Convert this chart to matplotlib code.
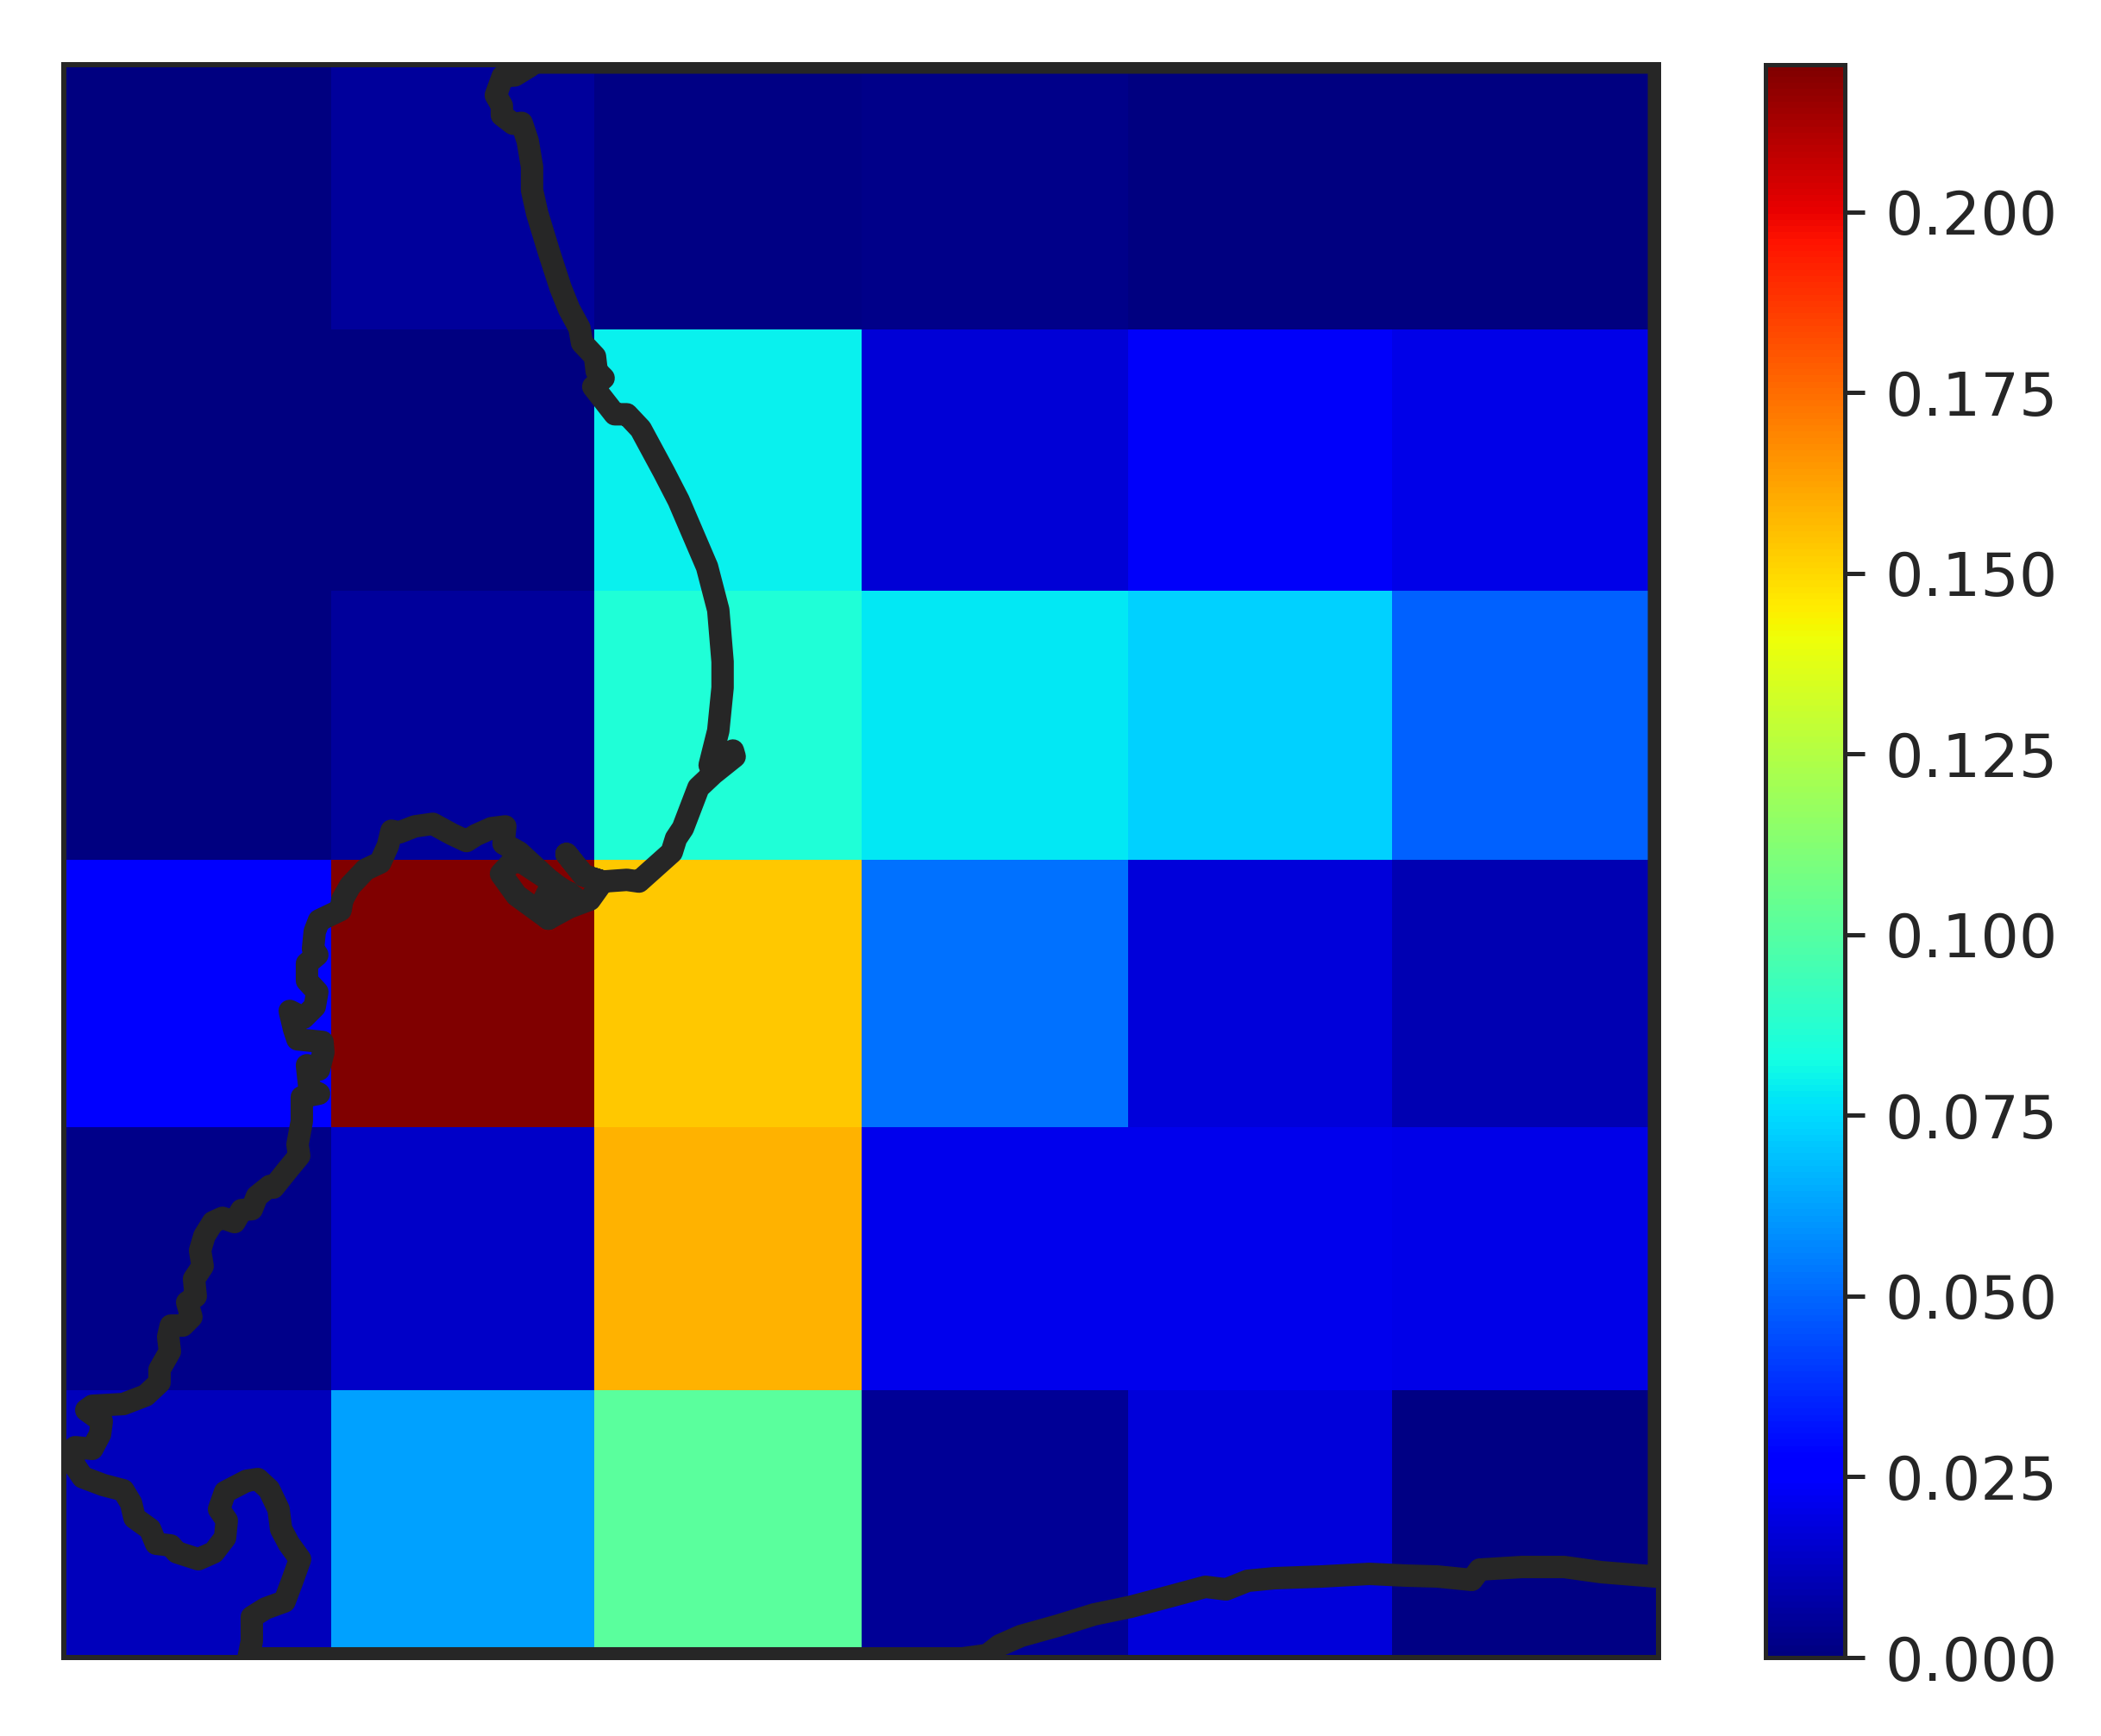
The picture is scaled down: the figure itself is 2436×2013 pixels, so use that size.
import matplotlib
matplotlib.use("Agg")
import matplotlib.pyplot as plt
import numpy as np

W, H, DPI = 2436, 2013, 200
INK = "#262626"

# grid edges and cell values (map units)
x_edges = [74, 384, 689, 999, 1308, 1614, 1923]
y_edges = [74, 382, 685, 997, 1307, 1612, 1922]
row_0 = [0.0005, 0.0058, 0.0012, 0.0025, 0.0005, 0.0008]
row_1 = [0.0000, 0.0000, 0.0793, 0.0170, 0.0240, 0.0200]
row_2 = [0.0003, 0.0060, 0.0860, 0.0776, 0.0726, 0.0490]
row_3 = [0.0260, 0.2204, 0.1540, 0.0517, 0.0175, 0.0099]
row_4 = [0.0020, 0.0145, 0.1587, 0.0213, 0.0210, 0.0206]
row_5 = [0.0120, 0.0621, 0.1008, 0.0045, 0.0175, 0.0010]
vmax = 0.2204
cbar_ticks = [0.0, 0.025, 0.05, 0.075, 0.1, 0.125, 0.15, 0.175, 0.2]

# coastline outline (map units), as (x, y) runs
north_coast = [(615, 76), (597, 87), (583, 88), (575, 110), (582, 122), (582, 133), (595, 143), (605, 142), (612, 163),
               (617, 193), (617, 220), (623, 247), (637, 293), (650, 333), (660, 358), (672, 380), (675, 397),
               (690, 413), (692, 430), (700, 438), (688, 448), (713, 480), (727, 480), (743, 497), (770, 547),
               (787, 580), (820, 657), (833, 707), (838, 767), (838, 797), (833, 847), (823, 887), (850, 870),
               (852, 877), (827, 897), (810, 913), (792, 960), (784, 972), (779, 988), (741, 1022), (727, 1020),
               (699, 1022), (677, 1015), (657, 990), (677, 1015), (699, 1022), (684, 1043), (660, 1052), (636, 1065),
               (640, 1048), (660, 1035), (636, 1065), (599, 1038), (581, 1013), (595, 998), (606, 1000), (641, 1023),
               (630, 1045), (645, 1035), (666, 1040), (640, 1023), (602, 988), (584, 978), (586, 958), (570, 960),
               (552, 968), (541, 975), (524, 967), (502, 955), (481, 958), (463, 965), (454, 963), (450, 980),
               (441, 1000), (424, 1008), (406, 1027), (397, 1043), (395, 1055), (370, 1067), (365, 1080), (363, 1100),
               (368, 1107), (356, 1117), (356, 1137), (368, 1150), (365, 1167), (352, 1180), (336, 1172), (341, 1193),
               (345, 1205), (374, 1208), (375, 1220), (370, 1240), (356, 1235), (359, 1263), (370, 1268), (350, 1272),
               (350, 1300)]
west_coast = [(345, 1327), (347, 1340), (333, 1357), (317, 1377), (313, 1375), (298, 1387), (292, 1402), (280, 1403),
              (272, 1417), (258, 1412), (247, 1417), (237, 1433), (232, 1450), (235, 1468), (225, 1483), (227, 1503),
              (217, 1510), (222, 1527), (212, 1537), (198, 1537), (195, 1550), (197, 1567), (185, 1588), (185, 1603),
              (169, 1618), (143, 1628), (107, 1630), (100, 1635), (118, 1648), (116, 1663), (107, 1680), (87, 1678),
              (85, 1697), (96, 1713), (120, 1722), (143, 1728), (152, 1743), (156, 1760), (174, 1773), (181, 1790),
              (198, 1792), (205, 1800), (230, 1808), (248, 1800), (261, 1783), (263, 1763), (254, 1750), (261, 1730),
              (286, 1717), (299, 1715), (312, 1727), (323, 1750), (326, 1773), (335, 1790), (348, 1808), (339, 1833),
              (330, 1857), (308, 1865), (292, 1875), (292, 1903), (288, 1923)]
south_coast = [(288, 1923), (1116, 1923), (1145, 1919), (1159, 1908), (1184, 1897), (1227, 1885), (1269, 1872),
               (1312, 1863), (1361, 1850), (1398, 1840), (1422, 1843), (1447, 1833), (1478, 1830), (1533, 1828),
               (1588, 1825), (1631, 1827), (1667, 1828), (1707, 1832), (1716, 1820), (1765, 1817), (1814, 1817),
               (1857, 1823), (1919, 1828)]
boundary = [(1924, 1828), (1924, 72), (615, 72)]

plt.rcParams["font.family"] = "DejaVu Sans"
fig = plt.figure(figsize=(W / DPI, H / DPI), dpi=DPI, facecolor="white")


def box(x0, x1, y0, y1):
    return [x0 / W, 1 - y1 / H, (x1 - x0) / W, (y1 - y0) / H]


ax = fig.add_axes(box(74, 1922.5, 74.5, 1922))
values = np.array([row_0, row_1, row_2, row_3, row_4, row_5])
mesh = ax.pcolormesh(x_edges, y_edges, values, cmap="jet", vmin=0, vmax=vmax, shading="flat")
coast = np.array(north_coast + west_coast + south_coast + boundary)
ax.plot(coast[:, 0], coast[:, 1], color=INK, lw=26 / DPI * 72,
        solid_joinstyle="round", solid_capstyle="round", zorder=3)
ax.set_xlim(74, 1923)
ax.set_ylim(1922, 74)
ax.set_xticks([])
ax.set_yticks([])
for s in ax.spines.values():
    s.set_linewidth(6 / DPI * 72)
    s.set_color(INK)
    s.set_zorder(4)

cax = fig.add_axes(box(2046.5, 2139, 74.5, 1922))
cb = fig.colorbar(mesh, cax=cax, ticks=cbar_ticks)
cb.ax.set_yticklabels([f"{t:.3f}" for t in cbar_ticks])
cb.outline.set_linewidth(5 / DPI * 72)
cb.outline.set_edgecolor(INK)
cb.ax.tick_params(axis="y", length=23 / DPI * 72, width=5 / DPI * 72, color=INK,
                  labelcolor=INK, labelsize=25.2, pad=8.5)

fig.savefig("out.png", dpi=DPI, facecolor="white")
